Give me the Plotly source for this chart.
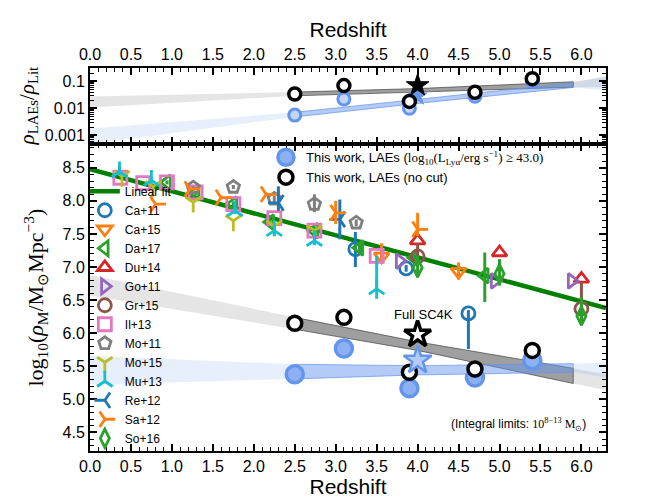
import plotly.graph_objects as go

# ---------------- This work ----------------
z_lae = [2.5, 3.1, 3.9, 4.7, 5.4]
rho_cut = [5.38, 5.77, 5.17, 5.33, 5.59]
rho_nocut = [6.15, 6.24, 5.41, 5.46, 5.74]
rho_err = [0.04, 0.05, 0.05, 0.04, 0.05]
z_sc4k = [4.0]
rho_sc4k_full = [5.98]
rho_sc4k_cut = [5.59]

ratio_cut = [0.0056, 0.022, 0.010, 0.028, 0.10]
ratio_nocut = [0.034, 0.069, 0.018, 0.039, 0.125]
ratio_sc4k_full = [0.070]
ratio_sc4k_cut = [0.028]

# ---------------- fits ----------------
fit_z = [0.0, 6.3]
fit_rho = [8.48, 6.38]

band_z = [0.0, 2.5, 4.0, 5.9, 6.3]
nocut_band_hi = [6.88, 6.24, 5.87, 5.47, 5.38]
nocut_band_lo = [6.57, 6.06, 5.74, 5.24, 5.14]
cut_band_hi = [5.66, 5.53, 5.51, 5.54, 5.56]
cut_band_lo = [5.22, 5.31, 5.37, 5.41, 5.33]
# top panel, log10 of ratio
nocut_ratio_band_hi = [-1.56, -1.40, -1.27, -1.02, -0.84]
nocut_ratio_band_lo = [-1.97, -1.54, -1.40, -1.22, -1.22]
cut_ratio_band_hi = [-2.75, -2.15, -1.68, -1.06, -0.81]
cut_ratio_band_lo = [-3.32, -2.32, -1.82, -1.23, -1.34]

# ---------------- literature ----------------
ca11_z = [3.24, 3.86, 4.62]
ca11_rho = [7.27, 6.98, 6.30]
ca11_eu = [0.26, 0.05, 0.05]
ca11_ed = [0.27, 0.05, 0.54]

ca15_z = [3.56, 4.50]
ca15_rho = [7.16, 6.93]
ca15_eu = [0.20, 0.14]
ca15_ed = [0.10, 0.12]

da17_z = [0.94, 1.29, 1.75, 2.20, 2.74, 3.29, 3.96, 4.82]
da17_rho = [8.28, 8.12, 7.95, 7.68, 7.55, 7.29, 7.14, 6.87]
da17_eu = [0.03, 0.03, 0.04, 0.04, 0.05, 0.06, 0.10, 0.35]
da17_ed = [0.03, 0.03, 0.04, 0.04, 0.05, 0.06, 0.10, 0.40]

du14_z = [4.0, 5.0, 6.0]
du14_rho = [7.40, 7.22, 6.82]

go11_z = [3.78, 4.94, 5.88]
go11_rho = [7.09, 6.79, 6.79]

gr15_z = [4.0, 6.0]
gr15_rho = [7.16, 6.37]
gr15_eu = [0.20, 0.40]
gr15_ed = [0.12, 0.20]

il13_z = [0.37, 0.65, 0.94, 1.29, 1.75, 2.25, 2.74, 3.50]
il13_rho = [8.35, 8.27, 8.28, 8.13, 7.95, 7.74, 7.55, 7.17]

mo11_z = [1.26, 1.75, 2.25, 2.74, 3.25]
mo11_rho = [8.20, 8.21, 8.03, 7.95, 7.67]
mo11_eu = [0.02, 0.03, 0.05, 0.15, 0.05]
mo11_ed = [0.02, 0.03, 0.05, 0.12, 0.05]

mo15_z = [0.39, 0.77, 1.26, 1.75, 2.25, 2.74]
mo15_rho = [8.37, 8.22, 7.98, 7.70, 7.62, 7.55]

mu13_z = [0.36, 0.75, 1.77, 2.25, 2.74, 3.50]
mu13_rho = [8.44, 8.31, 7.85, 7.55, 7.40, 6.67]
mu13_eu = [0.08, 0.05, 0.05, 0.08, 0.07, 0.50]
mu13_ed = [0.05, 0.05, 0.05, 0.08, 0.07, 0.15]

re12_z = [2.30, 3.05]
re12_rho = [7.97, 7.72]
re12_eu = [0.25, 0.30]
re12_ed = [0.12, 0.30]

sa12_z = [0.80, 1.22, 1.60, 2.15, 3.00, 4.00]
sa12_rho = [7.95, 8.18, 8.05, 8.10, 7.82, 7.57]
sa12_eu = [0.02, 0.02, 0.03, 0.03, 0.18, 0.25]
sa12_ed = [0.02, 0.02, 0.03, 0.03, 0.17, 0.10]

so16_z = [4.0, 5.0, 6.0]
so16_rho = [6.99, 6.90, 6.26]
so16_eu = [0.18, 0.22, 0.28]
so16_ed = [0.15, 0.18, 0.14]

BLUE = "#1f77b4"; ORANGE = "#ff7f0e"; GREEN = "#2ca02c"; RED = "#d62728"
PURPLE = "#9467bd"; BROWN = "#8c564b"; PINK = "#e377c2"; GRAY = "#7f7f7f"
OLIVE = "#bcbd22"; CYAN = "#17becf"
CORN = "#6495ED"

SANS = "Liberation Sans"
SERIF = "Liberation Serif"

fig = go.Figure()


def band(xs, hi, lo, i0, i1, fill_light, fill_dark, line_dark, xa, ya, log=False):
    conv = (lambda v: 10 ** v) if log else (lambda v: v)
    px = list(xs) + list(xs)[::-1]
    py = [conv(v) for v in hi] + [conv(v) for v in lo][::-1]
    fig.add_trace(go.Scatter(x=px, y=py, fill="toself", fillcolor=fill_light,
                             mode="lines", line=dict(width=0), hoverinfo="skip",
                             showlegend=False, xaxis=xa, yaxis=ya))
    sx = list(xs[i0:i1 + 1])
    px = sx + sx[::-1]
    py = [conv(v) for v in hi[i0:i1 + 1]] + [conv(v) for v in lo[i0:i1 + 1]][::-1]
    fig.add_trace(go.Scatter(x=px + [px[0]], y=py + [py[0]], fill="toself", fillcolor=fill_dark,
                             mode="lines", line=dict(width=1, color=line_dark), hoverinfo="skip",
                             showlegend=False, xaxis=xa, yaxis=ya))


# bottom panel bands
band(band_z, nocut_band_hi, nocut_band_lo, 1, 3, "rgba(150,150,150,0.25)",
     "rgba(90,90,90,0.5)", "rgba(50,50,50,0.6)", "x", "y")
band(band_z, cut_band_hi, cut_band_lo, 1, 3, "rgba(100,149,237,0.15)",
     "rgba(100,149,237,0.4)", "rgba(100,149,237,0.7)", "x", "y")
# top panel bands
band(band_z, nocut_ratio_band_hi, nocut_ratio_band_lo, 1, 3, "rgba(150,150,150,0.25)",
     "rgba(90,90,90,0.5)", "rgba(50,50,50,0.6)", "x2", "y2", log=True)
band(band_z, cut_ratio_band_hi, cut_ratio_band_lo, 1, 3, "rgba(100,149,237,0.15)",
     "rgba(100,149,237,0.4)", "rgba(100,149,237,0.7)", "x2", "y2", log=True)

# linear fit
fig.add_trace(go.Scatter(x=fit_z, y=fit_rho, mode="lines", name="Linear fit",
                         line=dict(color="#008000", width=4.5), legend="legend"))


def lit(name, z, rho, color, symbol, eu=None, ed=None, size=13):
    err = None
    if eu is not None:
        err = dict(type="data", symmetric=False, array=eu, arrayminus=ed,
                   color=color, thickness=3, width=0)
    fig.add_trace(go.Scatter(x=z, y=rho, mode="markers", name=name, error_y=err,
                             marker=dict(symbol=symbol, color=color, size=size,
                                         line=dict(width=2.8, color=color)),
                             legend="legend"))


lit("Ca+11", ca11_z, ca11_rho, BLUE, "circle-open", ca11_eu, ca11_ed)
lit("Ca+15", ca15_z, ca15_rho, ORANGE, "triangle-down-open", ca15_eu, ca15_ed)
lit("Da+17", da17_z, da17_rho, GREEN, "triangle-left-open", da17_eu, da17_ed)
lit("Du+14", du14_z, du14_rho, RED, "triangle-up-open")
lit("Go+11", go11_z, go11_rho, PURPLE, "triangle-right-open")
lit("Gr+15", gr15_z, gr15_rho, BROWN, "circle-open", gr15_eu, gr15_ed)
lit("Il+13", il13_z, il13_rho, PINK, "square-open")
lit("Mo+11", mo11_z, mo11_rho, GRAY, "pentagon-open", mo11_eu, mo11_ed)
lit("Mo+15", mo15_z, mo15_rho, OLIVE, "y-down-open")
lit("Mu+13", mu13_z, mu13_rho, CYAN, "y-up-open", mu13_eu, mu13_ed)
lit("Re+12", re12_z, re12_rho, BLUE, "y-left-open", re12_eu, re12_ed)
lit("Sa+12", sa12_z, sa12_rho, ORANGE, "y-right-open", sa12_eu, sa12_ed)
lit("So+16", so16_z, so16_rho, GREEN, "diamond-tall-open", so16_eu, so16_ed)

# this work, bottom panel
fig.add_trace(go.Scatter(
    x=z_lae, y=rho_cut, mode="markers", legend="legend2",
    name=("This work, LAEs (<span style=\"font-family:Liberation Serif\">log<sub>10</sub>"
          "(L<sub>Lyα</sub>/erg s<sup>−1</sup>) ≥ 43.0)</span>"),
    error_y=dict(type="data", array=rho_err, color="#4f7fd6", thickness=2.5, width=0),
    marker=dict(symbol="circle", size=17, color="#8db0f2", line=dict(width=3.5, color=CORN))))
fig.add_trace(go.Scatter(
    x=z_lae, y=rho_nocut, mode="markers", legend="legend2",
    name="This work, LAEs (no cut)",
    error_y=dict(type="data", array=rho_err, color="black", thickness=2.5, width=0),
    marker=dict(symbol="circle", size=14, color="white", line=dict(width=3.5, color="black"))))
fig.add_trace(go.Scatter(
    x=z_sc4k, y=rho_sc4k_cut, mode="markers", showlegend=False,
    marker=dict(symbol="star", size=21, color="#b3cbf6", line=dict(width=2.5, color=CORN))))
fig.add_trace(go.Scatter(
    x=z_sc4k, y=rho_sc4k_full, mode="markers", showlegend=False,
    marker=dict(symbol="star", size=20, color="white", line=dict(width=3.5, color="black"))))

# this work, top panel
fig.add_trace(go.Scatter(
    x=z_lae, y=ratio_cut, mode="markers", showlegend=False, xaxis="x2", yaxis="y2",
    marker=dict(symbol="circle", size=12, color="#c3d6f8", line=dict(width=3, color=CORN))))
fig.add_trace(go.Scatter(
    x=z_sc4k, y=ratio_sc4k_cut, mode="markers", showlegend=False, xaxis="x2", yaxis="y2",
    marker=dict(symbol="star", size=14, color=CORN, line=dict(width=1, color=CORN))))
fig.add_trace(go.Scatter(
    x=z_lae, y=ratio_nocut, mode="markers", showlegend=False, xaxis="x2", yaxis="y2",
    marker=dict(symbol="circle", size=12, color="white", line=dict(width=3.5, color="black"))))
fig.add_trace(go.Scatter(
    x=z_sc4k, y=ratio_sc4k_full, mode="markers", showlegend=False, xaxis="x2", yaxis="y2",
    marker=dict(symbol="star", size=17, color="black", line=dict(width=1, color="black"))))

ax_common = dict(showline=True, linecolor="black", linewidth=2, mirror="allticks",
                 ticks="inside", ticklen=7, tickwidth=1.5, tickcolor="black",
                 showgrid=False, zeroline=False,
                 tickfont=dict(family=SANS, size=16, color="black"))

xticks = [0.0, 0.5, 1.0, 1.5, 2.0, 2.5, 3.0, 3.5, 4.0, 4.5, 5.0, 5.5, 6.0]
minor_log = [k * 10.0 ** e for e in (-4, -3, -2, -1) for k in range(2, 10)]

fig.update_layout(
    width=664, height=498,
    margin=dict(l=82, r=66, t=60, b=55),
    plot_bgcolor="white", paper_bgcolor="white",
    xaxis=dict(domain=[0, 1], anchor="y", range=[0, 6.3], tickvals=xticks,
               ticktext=[f"{v:.1f}" for v in xticks],
               minor=dict(ticks="inside", ticklen=4, tickwidth=1, dtick=0.1, tick0=0, tickcolor="black"),
               title=dict(text="Redshift", font=dict(family=SANS, size=21, color="black"), standoff=0),
               **ax_common),
    yaxis=dict(domain=[0, 0.8016], anchor="x", range=[4.22, 8.86], dtick=0.5, tick0=4.5,
               tickformat=".1f",
               minor=dict(ticks="inside", ticklen=4, tickwidth=1, dtick=0.1, tick0=0, tickcolor="black"),
               **ax_common),
    xaxis2=dict(domain=[0, 1], anchor="y2", side="top", range=[0, 6.3], tickvals=xticks,
                ticktext=[f"{v:.1f}" for v in xticks],
                minor=dict(ticks="inside", ticklen=4, tickwidth=1, dtick=0.1, tick0=0, tickcolor="black"),
                title=dict(text="Redshift", font=dict(family=SANS, size=21, color="black"), standoff=2),
                **ax_common),
    yaxis2=dict(domain=[0.8016, 1], anchor="x2", type="log", range=[-3.32, -0.51],
                tickvals=[0.001, 0.01, 0.1], ticktext=["0.001", "0.01", "0.1"],
                minor=dict(ticks="inside", ticklen=4, tickwidth=1, tickvals=minor_log, tickcolor="black"),
                **ax_common),
    legend=dict(x=-0.01, y=0.716, xanchor="left", yanchor="top", bgcolor="rgba(0,0,0,0)",
                font=dict(family=SANS, size=12, color="black"), tracegroupgap=0,
                itemsizing="trace"),
    legend2=dict(x=0.341, y=0.806, xanchor="left", yanchor="top", bgcolor="rgba(0,0,0,0)",
                 font=dict(family=SANS, size=13, color="black"), tracegroupgap=0),
    annotations=[
        dict(text="log<sub>10</sub>(<i>ρ</i><sub>M</sub>/M<sub>⊙</sub>Mpc<sup>−3</sup>)",
             xref="paper", yref="paper", x=-0.105, y=0.40, textangle=-90, showarrow=False,
             xanchor="center", yanchor="middle",
             font=dict(family=SERIF, size=22, color="black")),
        dict(text="<i>ρ</i><sub>LAEs</sub>/<i>ρ</i><sub>Lit</sub>",
             xref="paper", yref="paper", x=-0.12, y=0.90, textangle=-90, showarrow=False,
             xanchor="center", yanchor="middle",
             font=dict(family=SERIF, size=21, color="black")),
        dict(text="Full SC4K", xref="x", yref="y", x=4.07, y=6.29, showarrow=False,
             font=dict(family=SANS, size=13, color="black")),
        dict(text="(Integral limits: <span style=\"font-family:Liberation Serif\">10<sup>8−13</sup> M<sub>⊙</sub></span>)",
             xref="paper", yref="paper", x=0.965, y=0.068, xanchor="right", yanchor="middle",
             showarrow=False, font=dict(family=SANS, size=12, color="black")),
    ],
)

fig.write_html("out.html")
